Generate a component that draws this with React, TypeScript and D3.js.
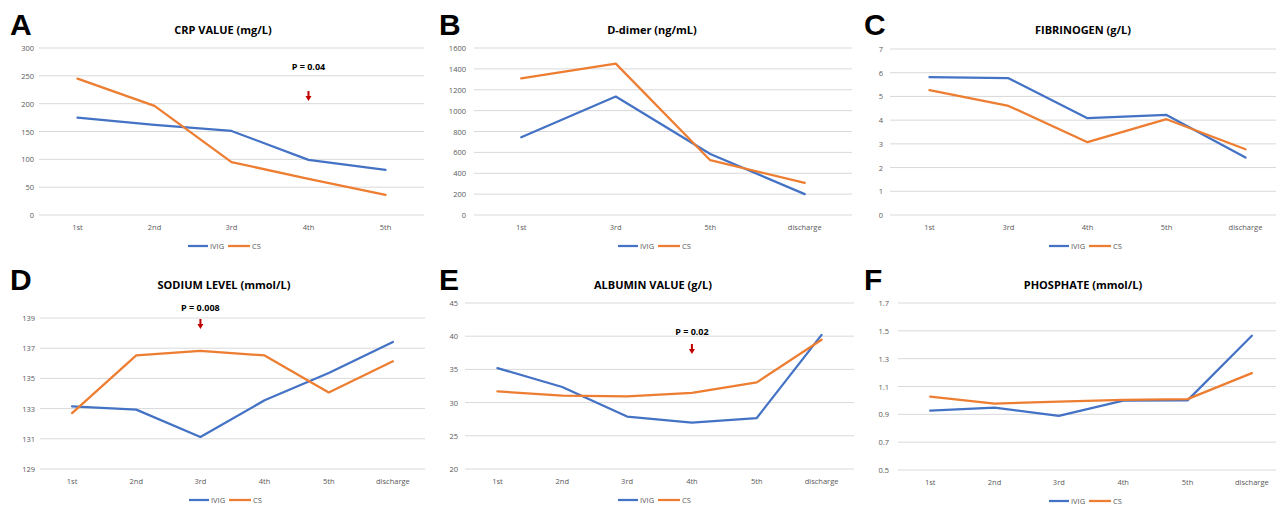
import React from 'react';
import * as d3 from 'd3';

const W = 1276;
const H = 505;

const BLUE = '#4472C4';
const ORANGE = '#ED7D31';
const GRID = '#d9d9d9';
const LABEL = '#595959';
const FONT = "'Open Sans', 'Liberation Sans', sans-serif";

// --- data ---
const crpCats = ['1st', '2nd', '3rd', '4th', '5th'];
const crpIvig = [175, 162, 151, 99, 81];
const crpCs = [245, 196, 95, 65, 36];
const crpTicks = [0, 50, 100, 150, 200, 250, 300];

const ddCats = ['1st', '3rd', '5th', 'discharge'];
const ddIvig = [745, 1135, 585, 200];
const ddCs = [1308, 1450, 525, 308];
const ddTicks = [0, 200, 400, 600, 800, 1000, 1200, 1400, 1600];

const fibCats = ['1st', '3rd', '4th', '5th', 'discharge'];
const fibIvig = [5.81, 5.77, 4.08, 4.22, 2.42];
const fibCs = [5.27, 4.6, 3.07, 4.04, 2.77];
const fibTicks = [0, 1, 2, 3, 4, 5, 6, 7];

const naCats = ['1st', '2nd', '3rd', '4th', '5th', 'discharge'];
const naIvig = [133.15, 132.93, 131.12, 133.55, 135.36, 137.41];
const naCs = [132.7, 136.52, 136.83, 136.52, 134.07, 136.13];
const naTicks = [129, 131, 133, 135, 137, 139];

const albCats = ['1st', '2nd', '3rd', '4th', '5th', 'discharge'];
const albIvig = [35.2, 32.35, 27.9, 27.0, 27.68, 40.2];
const albCs = [31.7, 31.04, 30.94, 31.45, 33.04, 39.47];
const albTicks = [20, 25, 30, 35, 40, 45];

const phCats = ['1st', '2nd', '3rd', '4th', '5th', 'discharge'];
const phIvig = [0.927, 0.948, 0.889, 0.999, 1.0, 1.465];
const phCs = [1.028, 0.977, 0.992, 1.004, 1.009, 1.196];
const phTicks = [0.5, 0.7, 0.9, 1.1, 1.3, 1.5, 1.7];

const seriesNames = ['IVIG', 'CS'];

type Panel = {
  letter: string;
  title: string;
  cats: string[];
  ivig: number[];
  cs: number[];
  ticks: number[];
  fmt: (d: number) => string;
  box: { left: number; right: number; top: number; bottom: number };
  letterX: number;
  letterY: number;
  titleX: number;
  titleY: number;
  legendX: number;
  labelGap: number;
  pval?: { text: string; cat: string; textY: number; arrowY: number };
};

const intFmt = (d: number) => String(d);

const panels: Panel[] = [
  {
    letter: 'A', title: 'CRP VALUE (mg/L)', cats: crpCats, ivig: crpIvig, cs: crpCs, ticks: crpTicks, fmt: intFmt,
    box: { left: 39, right: 424, top: 48, bottom: 215 },
    letterX: 10, letterY: 35, titleX: 223, titleY: 29, legendX: 188, labelGap: 5,
    pval: { text: 'P = 0.04', cat: '4th', textY: 66, arrowY: 91 }
  },
  {
    letter: 'B', title: 'D-dimer (ng/mL)', cats: ddCats, ivig: ddIvig, cs: ddCs, ticks: ddTicks, fmt: intFmt,
    box: { left: 474, right: 852, top: 48, bottom: 215 },
    letterX: 439, letterY: 35, titleX: 652, titleY: 29, legendX: 618, labelGap: 8
  },
  {
    letter: 'C', title: 'FIBRINOGEN (g/L)', cats: fibCats, ivig: fibIvig, cs: fibCs, ticks: fibTicks, fmt: intFmt,
    box: { left: 890, right: 1285, top: 49, bottom: 215 },
    letterX: 864, letterY: 35, titleX: 1083, titleY: 29, legendX: 1049, labelGap: 7
  },
  {
    letter: 'D', title: 'SODIUM LEVEL (mmol/L)', cats: naCats, ivig: naIvig, cs: naCs, ticks: naTicks, fmt: intFmt,
    box: { left: 40, right: 425, top: 318, bottom: 469 },
    letterX: 10, letterY: 290, titleX: 224, titleY: 284, legendX: 189, labelGap: 5,
    pval: { text: 'P = 0.008', cat: '3rd', textY: 307, arrowY: 319 }
  },
  {
    letter: 'E', title: 'ALBUMIN VALUE (g/L)', cats: albCats, ivig: albIvig, cs: albCs, ticks: albTicks, fmt: intFmt,
    box: { left: 465, right: 854, top: 303, bottom: 469 },
    letterX: 439, letterY: 290, titleX: 653, titleY: 284, legendX: 618, labelGap: 7,
    pval: { text: 'P = 0.02', cat: '4th', textY: 331, arrowY: 344 }
  },
  {
    letter: 'F', title: 'PHOSPHATE (mmol/L)', cats: phCats, ivig: phIvig, cs: phCs, ticks: phTicks, fmt: d3.format('.1f'),
    box: { left: 898, right: 1284, top: 303, bottom: 470 },
    letterX: 864, letterY: 290, titleX: 1083, titleY: 284, legendX: 1049, labelGap: 9
  }
];

function Arrow({ x, y }: { x: number; y: number }) {
  // small red down arrow, 10px long
  const p = `M${x - 1},${y} L${x + 1},${y} L${x + 1},${y + 5} L${x + 3},${y + 5} L${x},${y + 10} L${x - 3},${y + 5} L${x - 1},${y + 5} Z`;
  return <path d={p} fill="#C00000" />;
}

function Chart({ p }: { p: Panel }) {
  const { left, right, top, bottom } = p.box;
  const x = d3.scalePoint<string>().domain(p.cats).range([left, right]).padding(0.5);
  const y = d3.scaleLinear().domain([p.ticks[0], p.ticks[p.ticks.length - 1]]).range([bottom, top]);
  const line = d3
    .line<number>()
    .x((_, i) => x(p.cats[i]) as number)
    .y(d => y(d));

  const lx = p.legendX;
  const ly = bottom + 31;

  return (
    <g>
      <text x={p.letterX} y={p.letterY} fontFamily="'Liberation Sans', Arial, sans-serif" fontWeight="bold" fontSize={30} fill="#000">
        {p.letter}
      </text>
      <text x={p.titleX} y={p.titleY} textAnchor="middle" dominantBaseline="central" fontFamily={FONT} fontWeight="bold" fontSize={11} fill="#000">
        {p.title}
      </text>
      {p.ticks.map(t => (
        <g key={t}>
          <line x1={left} x2={right} y1={y(t)} y2={y(t)} stroke={GRID} strokeWidth={1} />
          <text x={left - p.labelGap} y={y(t)} textAnchor="end" dominantBaseline="central" fontFamily={FONT} fontSize={7.5} fill={LABEL}>
            {p.fmt(t)}
          </text>
        </g>
      ))}
      {p.cats.map(c => (
        <text key={c} x={x(c)} y={bottom + 11.5} textAnchor="middle" dominantBaseline="central" fontFamily={FONT} fontSize={7.5} fill={LABEL}>
          {c}
        </text>
      ))}
      <path d={line(p.ivig) || ''} fill="none" stroke={BLUE} strokeWidth={2.25} strokeLinejoin="round" strokeLinecap="round" />
      <path d={line(p.cs) || ''} fill="none" stroke={ORANGE} strokeWidth={2.25} strokeLinejoin="round" strokeLinecap="round" />
      {p.pval && (
        <g>
          <text x={x(p.pval.cat)} y={p.pval.textY} textAnchor="middle" dominantBaseline="central" fontFamily={FONT} fontWeight="bold" fontSize={9} fill="#000">
            {p.pval.text}
          </text>
          <Arrow x={x(p.pval.cat) as number} y={p.pval.arrowY} />
        </g>
      )}
      <g>
        <line x1={lx} x2={lx + 20} y1={ly} y2={ly} stroke={BLUE} strokeWidth={2.25} />
        <text x={lx + 22} y={ly} dominantBaseline="central" fontFamily={FONT} fontSize={7.5} fill={LABEL}>
          {seriesNames[0]}
        </text>
        <line x1={lx + 40} x2={lx + 62} y1={ly} y2={ly} stroke={ORANGE} strokeWidth={2.25} />
        <text x={lx + 64} y={ly} dominantBaseline="central" fontFamily={FONT} fontSize={7.5} fill={LABEL}>
          {seriesNames[1]}
        </text>
      </g>
    </g>
  );
}

export default function App() {
  return (
    <svg
      width={W}
      height={H}
      viewBox={`0 0 ${W} ${H}`}
      style={{ position: 'absolute', left: 0, top: 0, background: '#fff' }}
    >
      <rect x={0} y={0} width={W} height={H} fill="#fff" />
      {panels.map(p => (
        <Chart key={p.letter} p={p} />
      ))}
    </svg>
  );
}
